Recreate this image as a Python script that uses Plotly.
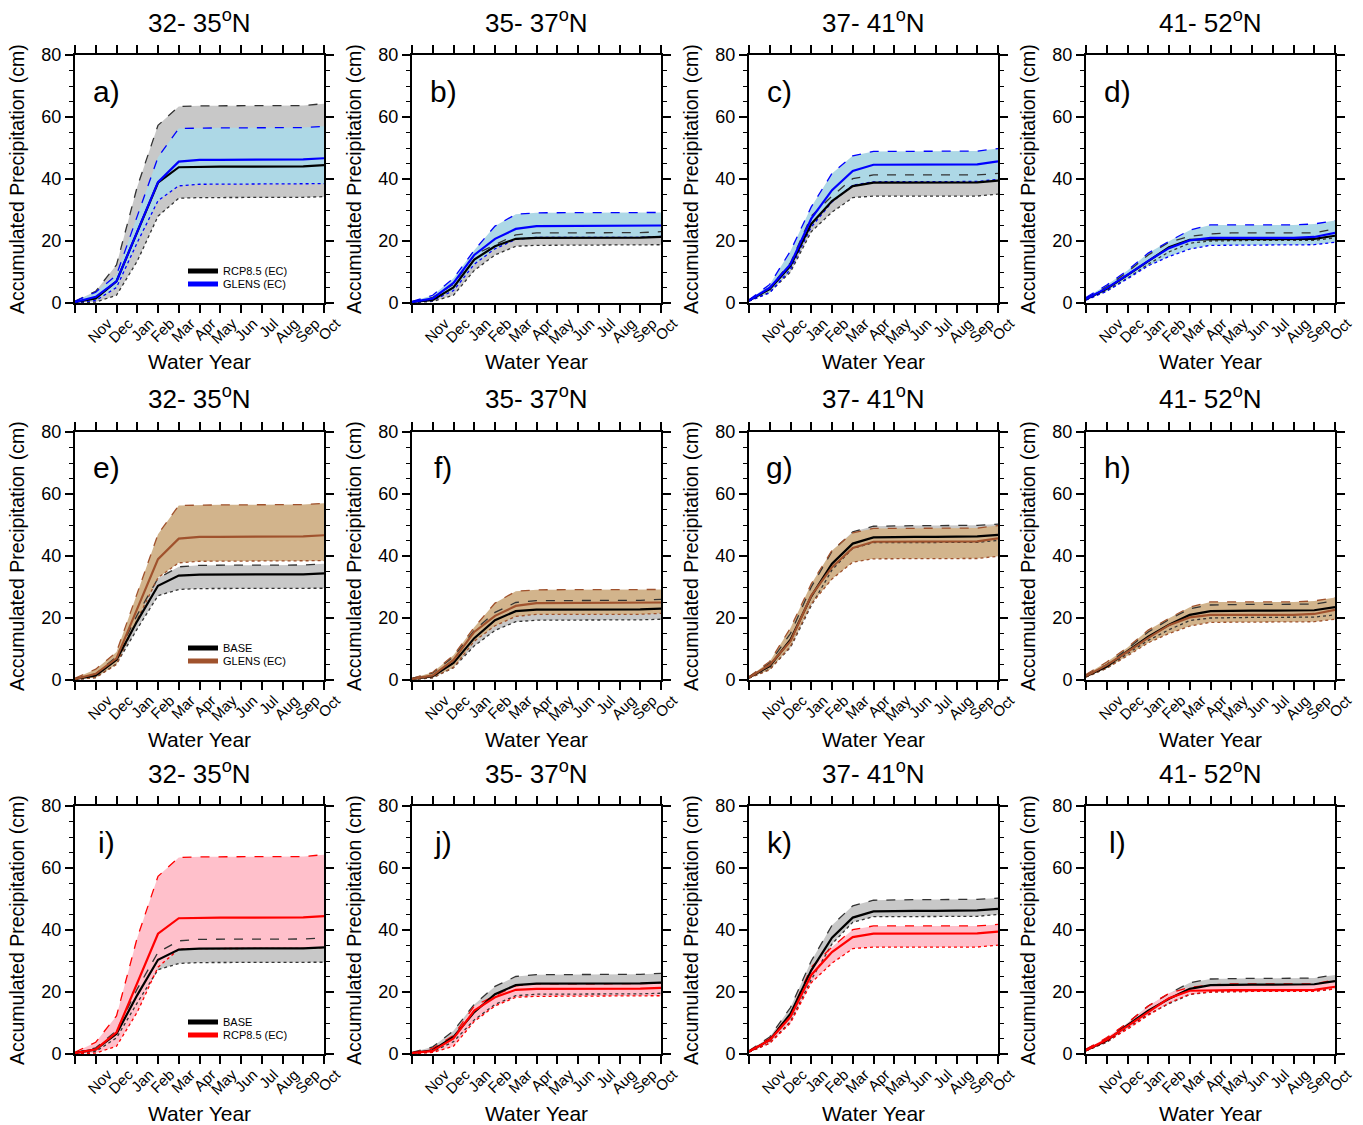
import plotly.graph_objects as go

# ---------------- data ----------------
months = ["", "Nov", "Dec", "Jan", "Feb", "Mar", "Apr", "May", "Jun", "Jul", "Aug", "Sep", "Oct"]
month_idx = list(range(13))
region_titles = ["32- 35<sup>o</sup>N", "35- 37<sup>o</sup>N", "37- 41<sup>o</sup>N", "41- 52<sup>o</sup>N"]
panel_letters = ["a)", "b)", "c)", "d)", "e)", "f)", "g)", "h)", "i)", "j)", "k)", "l)"]

# Region 1: 32-35N
BASE_R1_HI = [0.4, 2.0, 7.5, 21.0, 32.8, 36.5, 37.0, 37.0, 37.0, 37.0, 37.0, 37.1, 37.5]
BASE_R1_MEAN = [0.3, 1.5, 6.5, 19.0, 30.4, 33.7, 34.0, 34.0, 34.0, 34.0, 34.0, 34.1, 34.4]
BASE_R1_LO = [0.1, 0.8, 5.2, 16.5, 27.2, 29.2, 29.5, 29.5, 29.5, 29.5, 29.5, 29.5, 29.6]
RCP_R1_HI = [0.6, 3.8, 12.3, 37.5, 57.3, 63.4, 63.6, 63.6, 63.6, 63.6, 63.6, 63.7, 64.3]
RCP_R1_MEAN = [0.3, 1.5, 7.0, 23.0, 38.8, 43.8, 44.0, 44.0, 44.0, 44.0, 44.0, 44.1, 44.5]
RCP_R1_LO = [0.1, 0.3, 2.5, 13.5, 28.0, 33.8, 34.0, 34.0, 34.0, 34.0, 34.0, 34.1, 34.3]
GLENS_R1_HI = [0.6, 3.5, 9.0, 28.0, 47.0, 56.3, 56.5, 56.5, 56.5, 56.5, 56.5, 56.6, 57.0]
GLENS_R1_MEAN = [0.3, 2.0, 7.0, 23.0, 39.0, 45.6, 46.2, 46.2, 46.2, 46.2, 46.2, 46.3, 46.7]
GLENS_R1_LO = [0.2, 0.8, 5.0, 19.5, 33.0, 37.8, 38.3, 38.3, 38.3, 38.3, 38.3, 38.3, 38.5]

# Region 2: 35-37N
BASE_R2_HI = [0.5, 2.3, 7.5, 16.0, 21.8, 25.0, 25.6, 25.6, 25.6, 25.6, 25.6, 25.7, 26.0]
BASE_R2_MEAN = [0.3, 1.2, 5.5, 13.5, 19.3, 22.2, 22.7, 22.7, 22.7, 22.7, 22.7, 22.8, 23.0]
BASE_R2_LO = [0.1, 0.7, 4.0, 11.0, 16.0, 18.8, 19.3, 19.3, 19.3, 19.3, 19.3, 19.4, 19.6]
RCP_R2_HI = [0.4, 1.8, 6.0, 15.5, 18.8, 22.0, 22.6, 22.6, 22.6, 22.6, 22.6, 22.7, 23.0]
RCP_R2_MEAN = [0.3, 1.0, 5.0, 14.0, 18.3, 20.7, 21.0, 21.0, 21.0, 21.0, 21.0, 21.1, 21.3]
RCP_R2_LO = [0.1, 0.5, 2.5, 10.5, 15.5, 18.3, 18.6, 18.6, 18.6, 18.6, 18.6, 18.7, 18.8]
GLENS_R2_HI = [0.5, 2.5, 8.0, 17.0, 24.8, 28.6, 29.1, 29.1, 29.1, 29.1, 29.1, 29.1, 29.2]
GLENS_R2_MEAN = [0.3, 1.5, 6.5, 15.5, 20.7, 23.9, 24.8, 24.8, 24.8, 24.8, 24.8, 24.8, 25.0]
GLENS_R2_LO = [0.2, 0.8, 4.0, 12.5, 17.5, 20.5, 21.2, 21.2, 21.2, 21.2, 21.2, 21.2, 21.5]

# Region 3: 37-41N
BASE_R3_HI = [1.0, 5.5, 15.0, 30.0, 41.5, 47.8, 49.6, 49.8, 49.8, 49.8, 49.8, 49.9, 50.3]
BASE_R3_MEAN = [0.8, 4.5, 13.0, 27.0, 37.5, 44.0, 46.0, 46.2, 46.2, 46.2, 46.2, 46.3, 46.8]
BASE_R3_LO = [0.6, 3.5, 10.5, 24.0, 35.5, 42.5, 44.3, 44.3, 44.3, 44.3, 44.3, 44.4, 45.0]
RCP_R3_HI = [1.0, 5.0, 13.0, 28.0, 34.5, 40.1, 41.3, 41.3, 41.3, 41.3, 41.3, 41.3, 41.8]
RCP_R3_MEAN = [0.8, 4.5, 12.0, 25.5, 32.9, 37.7, 38.8, 38.8, 38.8, 38.8, 38.8, 38.9, 39.5]
RCP_R3_LO = [0.6, 3.5, 10.0, 23.0, 29.3, 34.0, 34.5, 34.5, 34.5, 34.5, 34.5, 34.5, 35.1]
GLENS_R3_HI = [1.0, 6.0, 16.8, 31.0, 41.8, 47.5, 48.9, 48.9, 48.9, 48.9, 48.9, 49.0, 49.8]
GLENS_R3_MEAN = [0.8, 4.9, 12.5, 27.2, 36.4, 42.6, 44.6, 44.6, 44.6, 44.6, 44.6, 44.7, 45.7]
GLENS_R3_LO = [0.6, 3.3, 10.9, 24.5, 32.6, 38.0, 39.1, 39.1, 39.1, 39.1, 39.1, 39.2, 39.9]

# Region 4: 41-52N
BASE_R4_HI = [1.5, 5.0, 10.0, 15.5, 19.5, 23.0, 24.2, 24.4, 24.4, 24.4, 24.4, 24.5, 25.5]
BASE_R4_MEAN = [1.2, 4.3, 9.3, 14.0, 17.8, 21.0, 22.2, 22.4, 22.4, 22.4, 22.4, 22.5, 23.5]
BASE_R4_LO = [1.0, 3.8, 8.5, 12.8, 16.2, 19.2, 20.0, 20.2, 20.2, 20.2, 20.2, 20.3, 21.0]
RCP_R4_HI = [1.5, 5.3, 10.0, 15.5, 19.6, 21.5, 22.3, 22.6, 22.6, 22.6, 22.6, 22.6, 23.9]
RCP_R4_MEAN = [1.2, 4.6, 9.0, 13.4, 18.0, 20.4, 20.6, 20.6, 20.6, 20.6, 20.6, 20.7, 21.7]
RCP_R4_LO = [1.0, 4.0, 8.0, 12.5, 16.5, 19.3, 20.0, 20.2, 20.2, 20.2, 20.2, 20.2, 21.0]
GLENS_R4_HI = [1.8, 5.8, 10.5, 16.1, 19.9, 23.5, 25.2, 25.2, 25.2, 25.2, 25.2, 25.5, 26.6]
GLENS_R4_MEAN = [1.3, 4.8, 9.1, 13.6, 17.7, 20.2, 21.0, 21.0, 21.0, 21.0, 21.0, 21.3, 22.6]
GLENS_R4_LO = [0.9, 3.8, 7.8, 12.0, 15.0, 17.4, 18.6, 18.6, 18.6, 18.6, 18.6, 18.8, 19.6]

BASE = [(BASE_R1_HI, BASE_R1_MEAN, BASE_R1_LO), (BASE_R2_HI, BASE_R2_MEAN, BASE_R2_LO),
        (BASE_R3_HI, BASE_R3_MEAN, BASE_R3_LO), (BASE_R4_HI, BASE_R4_MEAN, BASE_R4_LO)]
RCP = [(RCP_R1_HI, RCP_R1_MEAN, RCP_R1_LO), (RCP_R2_HI, RCP_R2_MEAN, RCP_R2_LO),
       (RCP_R3_HI, RCP_R3_MEAN, RCP_R3_LO), (RCP_R4_HI, RCP_R4_MEAN, RCP_R4_LO)]
GLENS = [(GLENS_R1_HI, GLENS_R1_MEAN, GLENS_R1_LO), (GLENS_R2_HI, GLENS_R2_MEAN, GLENS_R2_LO),
         (GLENS_R3_HI, GLENS_R3_MEAN, GLENS_R3_LO), (GLENS_R4_HI, GLENS_R4_MEAN, GLENS_R4_LO)]

# row definitions: (reference dataset, comparison dataset, fill, line colour, legend labels)
rows_cfg = [
    (RCP, GLENS, "#add8e6", "#0000ff", ["RCP8.5 (EC)", "GLENS (EC)"]),
    (BASE, GLENS, "#d2b48c", "#a0522d", ["BASE", "GLENS (EC)"]),
    (BASE, RCP, "#ffc0cb", "#ff0000", ["BASE", "RCP8.5 (EC)"]),
]
GREY_FILL = "#c8c8c8"
BLACK = "#000000"
DARK = "#333333"

# ---------------- layout geometry ----------------
W, H = 1363, 1125
col_left = [75, 412, 749, 1086]
pw = 249
row_top = [55, 432, 806]
ph = 248
FONT = "Liberation Sans, Arial, Helvetica, sans-serif"

fig = go.Figure()
layout = dict(width=W, height=H, margin=dict(l=0, r=0, t=0, b=0, autoexpand=False),
              paper_bgcolor="white", plot_bgcolor="white",
              font=dict(family=FONT, color="black"), annotations=[])

for r in range(3):
    ref, cmp_, fillc, linec, labels = rows_cfg[r]
    for c in range(4):
        k = r * 4 + c
        sx = "" if k == 0 else str(k + 1)
        xa, ya = "x" + sx, "y" + sx
        x0 = col_left[c] / W
        x1 = (col_left[c] + pw) / W
        y1 = 1 - row_top[r] / H
        y0 = 1 - (row_top[r] + ph) / H
        layout["xaxis" + sx] = dict(
            domain=[x0, x1], anchor=ya, range=[0, 12], tickmode="array",
            tickvals=month_idx, ticktext=months, tickangle=-45,
            ticks="outside", ticklen=8, tickwidth=1.5, tickcolor="black",
            showline=True, linewidth=2, linecolor="black", mirror="ticks",
            showgrid=False, zeroline=False, tickfont=dict(size=15),
            ticklabelshift=12, ticklabelstandoff=-4, automargin=False, fixedrange=True)
        layout["yaxis" + sx] = dict(
            domain=[y0, y1], anchor=xa, range=[0, 80], tickmode="array",
            tickvals=[0, 20, 40, 60, 80], ticks="outside", ticklen=8,
            tickwidth=1.5, tickcolor="black", showline=True, linewidth=2,
            linecolor="black", mirror="ticks", showgrid=False, zeroline=False,
            tickfont=dict(size=18), automargin=False,
            minor=dict(dtick=5, ticks="outside", ticklen=4, tickwidth=1,
                       tickcolor="black", showgrid=False),
            fixedrange=True)

        rh, rm, rl = ref[c]
        ch, cm, cl = cmp_[c]
        # grey band (reference)
        fig.add_trace(go.Scatter(x=month_idx, y=rh, mode="lines", line=dict(width=0, color=GREY_FILL),
                                 showlegend=False, hoverinfo="skip", xaxis=xa, yaxis=ya))
        fig.add_trace(go.Scatter(x=month_idx, y=rl, mode="lines", line=dict(width=0, color=GREY_FILL),
                                 fill="tonexty", fillcolor=GREY_FILL,
                                 showlegend=False, hoverinfo="skip", xaxis=xa, yaxis=ya))
        # coloured band (comparison)
        fig.add_trace(go.Scatter(x=month_idx, y=ch, mode="lines", line=dict(width=0, color=fillc),
                                 showlegend=False, hoverinfo="skip", xaxis=xa, yaxis=ya))
        fig.add_trace(go.Scatter(x=month_idx, y=cl, mode="lines", line=dict(width=0, color=fillc),
                                 fill="tonexty", fillcolor=fillc,
                                 showlegend=False, hoverinfo="skip", xaxis=xa, yaxis=ya))
        # lines
        for yy, dash, wd, col in [(rh, "dash", 1.3, DARK), (rl, "dot", 1.3, DARK),
                                  (ch, "dash", 1.3, linec), (cl, "dot", 1.3, linec),
                                  (rm, "solid", 2.2, BLACK), (cm, "solid", 2.2, linec)]:
            fig.add_trace(go.Scatter(x=month_idx, y=yy, mode="lines",
                                     line=dict(width=wd, dash=dash, color=col),
                                     showlegend=False, xaxis=xa, yaxis=ya))

        # legend entries in first column (one legend box per entry)
        if c == 0:
            for j, (lab, col) in enumerate(zip(labels, [BLACK, linec])):
                lname = "legend" if (2 * r + j) == 0 else "legend%d" % (2 * r + j + 1)
                fig.add_trace(go.Scatter(x=[None], y=[None], mode="lines", name=lab,
                                         line=dict(width=5, color=col), showlegend=True,
                                         legend=lname, xaxis=xa, yaxis=ya))
                layout[lname] = dict(
                    x=(col_left[0] + 108) / W, y=1 - (row_top[r] + 216 + 13 * j) / H,
                    xanchor="left", yanchor="middle", bgcolor="rgba(0,0,0,0)",
                    font=dict(size=11), itemwidth=30, borderwidth=0)

        # texts
        cx = (col_left[c] + pw / 2) / W
        layout["annotations"].append(dict(
            text=region_titles[c], x=cx, y=1 - (row_top[r] - 34) / H, xref="paper", yref="paper",
            showarrow=False, font=dict(size=26), xanchor="center", yanchor="middle"))
        layout["annotations"].append(dict(
            text=panel_letters[k], x=(col_left[c] + 31) / W, y=1 - (row_top[r] + 36) / H,
            xref="paper", yref="paper", showarrow=False, font=dict(size=30),
            xanchor="center", yanchor="middle"))
        layout["annotations"].append(dict(
            text="Accumulated Precipitation (cm)", x=(col_left[c] - 58) / W,
            y=1 - (row_top[r] + ph / 2) / H, xref="paper", yref="paper", showarrow=False,
            textangle=-90, font=dict(size=19.5), xanchor="center", yanchor="middle"))
        layout["annotations"].append(dict(
            text="Water Year", x=cx, y=1 - (row_top[r] + ph + 59) / H, xref="paper", yref="paper",
            showarrow=False, font=dict(size=21), xanchor="center", yanchor="middle"))

fig.update_layout(**layout)
fig.write_html("out.html", config={"displayModeBar": False},
               post_script="document.body.style.margin='0';document.body.style.padding='0';"
                           "document.documentElement.style.overflow='hidden';")
